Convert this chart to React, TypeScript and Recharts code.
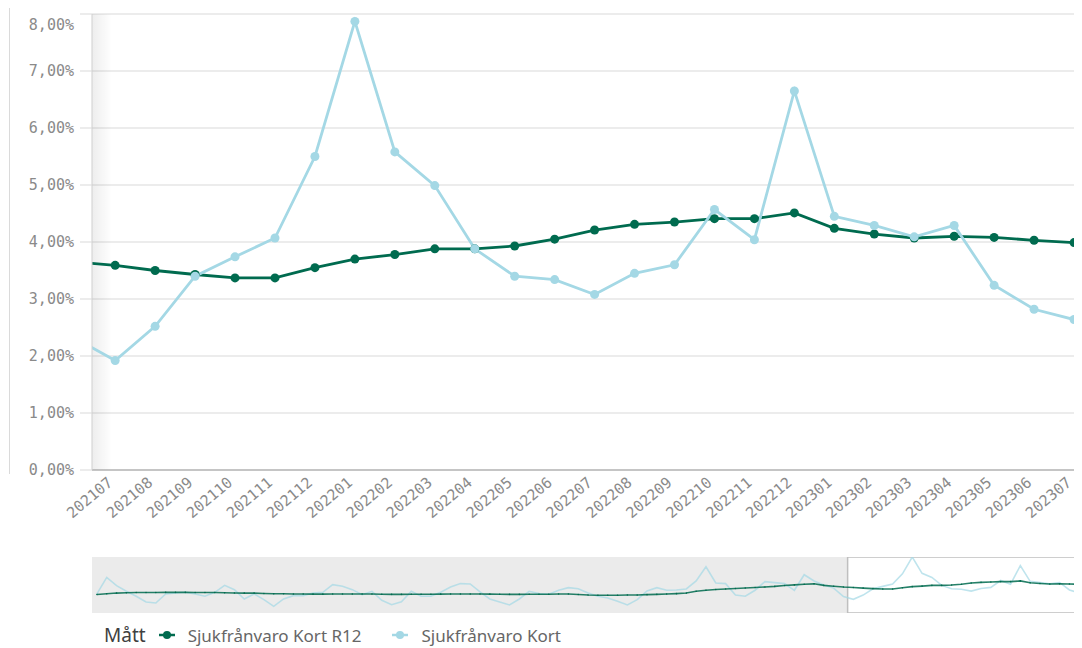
import { LineChart, Line, XAxis, YAxis, CartesianGrid, ReferenceArea } from 'recharts'

// visible months in the main chart
const months = [
  '202107', '202108', '202109', '202110', '202111', '202112', '202201', '202202', '202203',
  '202204', '202205', '202206', '202207', '202208', '202209', '202210', '202211', '202212',
  '202301', '202302', '202303', '202304', '202305', '202306', '202307',
]
const kortValues = [
  1.92, 2.52, 3.4, 3.74, 4.07, 5.5, 7.87, 5.58, 4.99, 3.88, 3.4, 3.34, 3.08,
  3.45, 3.6, 4.57, 4.04, 6.65, 4.45, 4.29, 4.09, 4.29, 3.24, 2.82, 2.64,
]
const r12Values = [
  3.59, 3.5, 3.43, 3.37, 3.37, 3.55, 3.7, 3.78, 3.88, 3.88, 3.93, 4.05, 4.21,
  4.31, 4.35, 4.41, 4.41, 4.51, 4.24, 4.14, 4.07, 4.1, 4.08, 4.03, 3.99,
]

// earlier months (201502 .. 202106), only seen in the scroll navigator
const historyKort = [
  2.68, 5.01, 3.84, 3.05, 2.35, 1.55, 1.41, 2.68, 2.82, 2.91, 2.68, 2.35,
  2.91, 3.89, 3.28, 1.97, 2.68, 1.88, 0.94, 1.97, 2.44, 2.44, 2.82, 2.91,
  3.98, 3.75, 3.28, 2.58, 3.05, 1.78, 1.17, 1.59, 3.05, 2.35, 2.35, 2.91,
  3.66, 4.13, 4.08, 2.96, 1.97, 1.55, 1.13, 1.97, 3.05, 2.72, 2.63, 3.19,
  3.56, 3.42, 2.82, 2.35, 2.1, 1.64, 1.13, 1.88, 3.1, 3.56, 3.19, 3.23,
  3.38, 4.5, 6.5, 4.22, 4.13, 2.54, 2.35, 3.19, 4.41, 4.27, 4.13, 3.19,
  5.38, 4.5, 3.94, 3.5, 2.31,
]
const historyR12 = [
  2.6, 2.7, 2.8, 2.85, 2.88, 2.88, 2.88, 2.9, 2.9, 2.9, 2.88, 2.88,
  2.88, 2.85, 2.82, 2.8, 2.8, 2.75, 2.7, 2.7, 2.68, 2.66, 2.65, 2.65,
  2.66, 2.68, 2.68, 2.67, 2.66, 2.64, 2.62, 2.62, 2.64, 2.64, 2.64, 2.65,
  2.66, 2.68, 2.68, 2.66, 2.65, 2.64, 2.62, 2.62, 2.64, 2.64, 2.64, 2.66,
  2.68, 2.6, 2.52, 2.5, 2.5, 2.5, 2.52, 2.54, 2.58, 2.62, 2.66, 2.72,
  2.8, 3.05, 3.2, 3.3, 3.38, 3.45, 3.52, 3.58, 3.66, 3.74, 3.86, 3.95,
  4.05, 4.1, 3.88, 3.75, 3.65,
]

const yTicks = [0, 1, 2, 3, 4, 5, 6, 7, 8]

const R12_COLOR = '#006b4f'
const KORT_COLOR = '#a4d8e5'
const MONO = '"DejaVu Sans Mono", monospace'
const SANS = '"Noto Sans", sans-serif'

const allKort = [...historyKort, ...kortValues]
const allR12 = [...historyR12, ...r12Values]
const allData = allKort.map((k, i) => ({ i, kort: k, r12: allR12[i] }))

const firstVisible = historyKort.length
const lastIndex = allData.length - 1
const viewStart = firstVisible - 0.58
const viewEnd = lastIndex + 0.5
const mainData = allData.slice(firstVisible - 1)
const mainTicks = months.map((_, k) => firstVisible + k)

const fmtPct = (v: number) => v.toFixed(2).replace('.', ',') + '%'

function MonthTick(props: any) {
  const { x, y, payload } = props
  const label = months[payload.value - firstVisible] ?? ''
  return (
    <g transform={`translate(${x - 11},${y + 1})`}>
      <text
        x={4}
        y={0}
        dy={10}
        textAnchor="end"
        transform="rotate(-40)"
        fill="#8a8a8a"
        fontSize={15}
        fontFamily={MONO}
      >
        {label}
      </text>
    </g>
  )
}

function PctTick(props: any) {
  const { x, y, payload } = props
  // the top label is pushed down so it stays inside the chart
  const shift = payload.value === yTicks[yTicks.length - 1] ? 8 : 0
  return (
    <text
      x={x}
      y={y + shift}
      dy={5}
      textAnchor="end"
      fill="#8a8a8a"
      fontSize={15}
      fontFamily={MONO}
    >
      {fmtPct(payload.value)}
    </text>
  )
}

function LegendMarker({ color }: { color: string }) {
  return (
    <svg width={18} height={10} style={{ display: 'block' }}>
      <line x1={1} y1={5} x2={17} y2={5} stroke={color} strokeWidth={2.5} />
      <circle cx={9} cy={5} r={4} fill={color} />
    </svg>
  )
}

export default function App() {
  return (
    <div style={{ position: 'relative', width: 1074, height: 640, overflow: 'hidden' }}>
      <div
        style={{
          position: 'absolute',
          left: 1,
          top: 0,
          width: 1,
          height: 466,
          background: '#dadada',
        }}
      />
      <div style={{ position: 'absolute', left: 0, top: 0 }}>
        <LineChart
          width={1100}
          height={530}
          data={mainData}
          margin={{ top: 6, right: 14, bottom: 0, left: 0 }}
        >
          <defs>
            <linearGradient id="edgeShadow" x1="0" y1="0" x2="1" y2="0">
              <stop offset="0" stopColor="#000" stopOpacity={0.07} />
              <stop offset="1" stopColor="#000" stopOpacity={0} />
            </linearGradient>
          </defs>
          <CartesianGrid vertical={false} stroke="#d9d9d9" />
          <ReferenceArea
            x1={viewStart}
            x2={viewStart + 0.5}
            fill="url(#edgeShadow)"
            fillOpacity={1}
            ifOverflow="hidden"
          />
          <XAxis
            type="number"
            dataKey="i"
            domain={[viewStart, viewEnd]}
            allowDataOverflow
            ticks={mainTicks}
            interval={0}
            tick={<MonthTick />}
            tickLine={false}
            axisLine={{ stroke: '#9e9e9e' }}
            height={68}
          />
          <YAxis
            domain={[0, 8]}
            ticks={yTicks}
            width={84}
            tickSize={12}
            tickMargin={6}
            tickLine={{ stroke: '#d9d9d9' }}
            axisLine={{ stroke: '#cfcfcf' }}
            tick={<PctTick />}
          />
          <Line
            dataKey="r12"
            stroke={R12_COLOR}
            strokeWidth={2.8}
            dot={{ r: 4.5, fill: R12_COLOR, stroke: 'none' }}
            isAnimationActive={false}
          />
          <Line
            dataKey="kort"
            stroke={KORT_COLOR}
            strokeWidth={2.8}
            dot={{ r: 4.5, fill: KORT_COLOR, stroke: 'none' }}
            isAnimationActive={false}
          />
        </LineChart>
      </div>

      <div style={{ position: 'absolute', left: 84, top: 549 }}>
        <LineChart
          width={1002}
          height={56}
          data={allData}
          margin={{ top: 0, right: 0, bottom: 0, left: 0 }}
        >
          <XAxis type="number" dataKey="i" domain={[-0.5, lastIndex + 0.5]} hide />
          <YAxis domain={[0, 'dataMax']} hide />
          <ReferenceArea x1={-0.5} x2={viewStart} fill="#ebebeb" fillOpacity={1} />
          <ReferenceArea
            x1={viewStart}
            x2={lastIndex + 0.5}
            fill="#ffffff"
            fillOpacity={1}
            stroke="#bfbfbf"
            strokeWidth={1.5}
          />
          <Line
            dataKey="kort"
            stroke={KORT_COLOR}
            strokeOpacity={0.7}
            strokeWidth={1.6}
            dot={false}
            isAnimationActive={false}
          />
          <Line
            dataKey="r12"
            stroke={R12_COLOR}
            strokeOpacity={0.85}
            strokeWidth={1.6}
            dot={{ r: 0.8, fill: R12_COLOR, stroke: 'none' }}
            isAnimationActive={false}
          />
        </LineChart>
      </div>

      <div
        style={{
          position: 'absolute',
          left: 96,
          top: 614,
          display: 'flex',
          alignItems: 'center',
          fontFamily: SANS,
          whiteSpace: 'nowrap',
        }}
      >
        <span style={{ fontSize: 19, color: '#404040' }}>Mått</span>
        <span style={{ marginLeft: 12 }}>
          <LegendMarker color={R12_COLOR} />
        </span>
        <span style={{ marginLeft: 12, fontSize: 17, color: '#666' }}>Sjukfrånvaro Kort R12</span>
        <span style={{ marginLeft: 30 }}>
          <LegendMarker color={KORT_COLOR} />
        </span>
        <span style={{ marginLeft: 12, fontSize: 17, color: '#666' }}>Sjukfrånvaro Kort</span>
      </div>
    </div>
  )
}
